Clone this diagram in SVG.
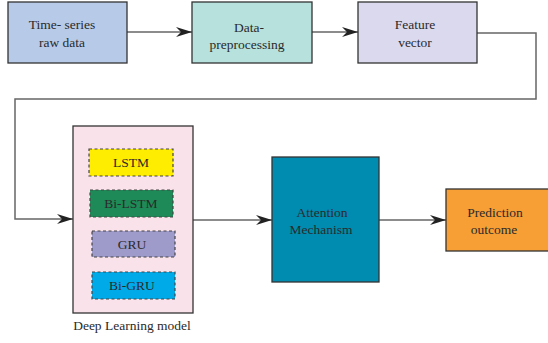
<svg xmlns="http://www.w3.org/2000/svg" width="548" height="343" viewBox="0 0 548 343">
  <defs>
    <marker id="arrow" markerUnits="userSpaceOnUse" markerWidth="16" markerHeight="11" refX="16" refY="5" orient="auto" overflow="visible">
      <path d="M0,0 L16,5 L0,10 L5,5 z" fill="#222"/>
    </marker>
    <style>
      .box { stroke: #333; stroke-width: 1.3; }
      .dash { stroke: #444; stroke-width: 1.2; stroke-dasharray: 3 2.5; }
      .conn { fill: none; stroke: #666; stroke-width: 1.5; }
      text { font-family: "Liberation Serif", "Times New Roman", serif; font-size: 13.5px; fill: #2a2a2a; text-anchor: middle; }
    </style>
  </defs>

  <rect width="548" height="343" fill="#ffffff"/>

  <!-- connectors -->
  <g id="connectors">
    <line class="conn" x1="127" y1="32" x2="192" y2="32" marker-end="url(#arrow)"/>
    <line class="conn" x1="312" y1="32" x2="358" y2="32" marker-end="url(#arrow)"/>
    <polyline class="conn" points="477,33 536,33 536,99 15,99 15,219 73,219" marker-end="url(#arrow)"/>
    <line class="conn" x1="193" y1="220" x2="272" y2="220" marker-end="url(#arrow)"/>
    <line class="conn" x1="379" y1="220" x2="446" y2="220" marker-end="url(#arrow)"/>
  </g>

  <!-- input stage -->
  <g id="raw-data">
    <rect class="box" x="8" y="2" width="119" height="61" fill="#b7cbe9"/>
    <text x="62" y="29">Time- series</text>
    <text x="62" y="47">raw data</text>
  </g>

  <g id="preprocessing">
    <rect class="box" x="192" y="2" width="120" height="61" fill="#b6e1dc"/>
    <text x="249" y="32">Data-</text>
    <text x="247" y="49">preprocessing</text>
  </g>

  <g id="feature-vector">
    <rect class="box" x="358" y="2" width="119" height="61" fill="#dbd9ee"/>
    <text x="415" y="29">Feature</text>
    <text x="415" y="47">vector</text>
  </g>

  <!-- model block with its variants -->
  <g id="deep-learning-model">
    <rect class="box" x="73" y="126" width="120" height="187" fill="#fae2ea"/>
    <g id="lstm">
      <rect class="dash" x="89" y="149" width="84" height="27" fill="#ffed00"/>
      <text x="131" y="167">LSTM</text>
    </g>
    <g id="bi-lstm">
      <rect class="dash" x="90" y="190" width="83" height="27" fill="#1e8a57"/>
      <text x="131" y="208">Bi-LSTM</text>
    </g>
    <g id="gru">
      <rect class="dash" x="92" y="231" width="83" height="26" fill="#9e9aca"/>
      <text x="132" y="249">GRU</text>
    </g>
    <g id="bi-gru">
      <rect class="dash" x="92" y="272" width="83" height="27" fill="#00aae8"/>
      <text x="132" y="290">Bi-GRU</text>
    </g>
    <text x="132" y="330">Deep Learning model</text>
  </g>

  <g id="attention">
    <rect class="box" x="272" y="157" width="107" height="125" fill="#008bb0"/>
    <text x="322" y="217">Attention</text>
    <text x="321" y="234">Mechanism</text>
  </g>

  <g id="prediction">
    <rect class="box" x="446" y="189" width="103" height="62" fill="#f79e35"/>
    <text x="495" y="217">Prediction</text>
    <text x="494" y="234">outcome</text>
  </g>
</svg>
